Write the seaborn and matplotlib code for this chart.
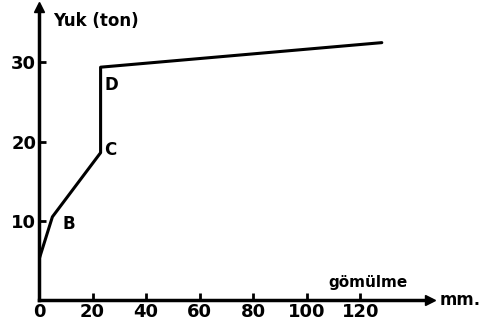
import matplotlib
matplotlib.use("Agg")
import matplotlib.pyplot as plt
import seaborn as sns
import pandas as pd
from matplotlib import font_manager

# load-settlement curve
gomulme = [0, 5, 23, 23, 128]       # mm
yuk = [5.1, 10.5, 18.6, 29.4, 32.5]  # ton
point_labels = ["B", "C", "D"]
label_x = [11.2, 26.5, 27.2]
label_y = [9.6, 19.0, 27.1]
xticks = [0, 20, 40, 60, 80, 100, 120]
yticks = [10, 20, 30]

df = pd.DataFrame({"gomulme": gomulme, "yuk": yuk})

sns.set_style("ticks", {"axes.edgecolor": "black", "text.color": "black",
                        "xtick.color": "black", "ytick.color": "black"})
names = {f.name for f in font_manager.fontManager.ttflist}
fam = "Liberation Sans Narrow" if "Liberation Sans Narrow" in names else "DejaVu Sans"
plt.rcParams["font.family"] = [fam, "DejaVu Sans"]
plt.rcParams["font.weight"] = "bold"

fig = plt.figure(figsize=(4.89, 3.31), dpi=100)
ax = fig.add_axes([39 / 489, 31 / 331, 391 / 489, 293 / 331])

sns.lineplot(data=df, x="gomulme", y="yuk", sort=False, color="black",
             linewidth=2.2, ax=ax, estimator=None)

ax.set_xlim(0, 146)
ax.set_ylim(0, 37)
ax.set_xticks(xticks)
ax.set_yticks(yticks)
ax.tick_params(direction="in", length=5, width=2, labelsize=13, pad=2,
               colors="black")
for lab in ax.get_xticklabels() + ax.get_yticklabels():
    lab.set_fontweight("bold")
ax.set_xlabel("")
ax.set_ylabel("")
for s in ["top", "right"]:
    ax.spines[s].set_visible(False)
for s in ["left", "bottom"]:
    ax.spines[s].set_linewidth(2.5)
    ax.spines[s].set_color("black")

# arrow heads on axes
ax.plot(1, 0, ">k", markersize=7, transform=ax.transAxes, clip_on=False)
ax.plot(0, 1, "^k", markersize=7, transform=ax.transAxes, clip_on=False)

for t, x, y in zip(point_labels, label_x, label_y):
    ax.text(x, y, t, ha="center", va="center", fontsize=12,
            fontweight="bold", color="black")

ax.text(0.037, 0.952, "Yuk (ton)", transform=ax.transAxes, ha="left",
        va="center", fontsize=12, fontweight="bold", color="black")
ax.text(0.74, 0.06, "gömülme", transform=ax.transAxes, ha="left",
        va="center", fontsize=11, fontweight="bold", color="black")
ax.text(1.025, 0.0, "mm.", transform=ax.transAxes, ha="left",
        va="center", fontsize=12, fontweight="bold", color="black")

fig.savefig("out.png", dpi=100)
